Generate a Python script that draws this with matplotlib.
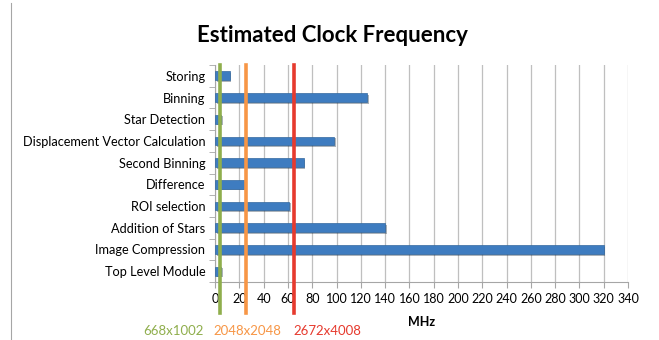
import matplotlib
matplotlib.use('Agg')
import matplotlib.pyplot as plt
import matplotlib.patheffects as pe
import numpy as np

plt.rcParams['font.family'] = ['Lato', 'DejaVu Sans']

# 数据
modules = ['Top Level Module', 'Image Compression', 'Addition of Stars', 'ROI selection',
           'Difference', 'Second Binning', 'Displacement Vector Calculation',
           'Star Detection', 'Binning', 'Storing']
freq = [5, 320, 140, 61, 24, 73, 98, 5, 125, 12]
sizes = ['668x1002', '2048x2048', '2672x4008']
required = [4.0, 25.3, 65.0]
size_colors = ['#8FAE4C', '#F79646', '#E63A2E']
xticks = list(range(0, 341, 20))

fig = plt.figure(figsize=(6.59, 3.4), dpi=100)
ax = fig.add_axes([0.3263, 0.1706, 0.6267, 0.6382])

y = np.arange(len(modules))
ax.barh(y, freq, height=0.41, color='#3E7CC0', edgecolor='#33689F', linewidth=0.5,
        path_effects=[pe.SimplePatchShadow(offset=(1.2, -1.2), alpha=0.35), pe.Normal()],
        zorder=3)

# 图像尺寸对应的频率线
for x, c in zip(required, size_colors):
    ax.axvline(x, ymin=-0.143, ymax=1, color=c, linewidth=2.6, clip_on=False, zorder=4)

ax.set_xlim(0, 340)
ax.set_ylim(-0.5, len(modules) - 0.5)
ax.set_xticks(xticks)
ax.set_xticklabels([str(t) for t in xticks], fontsize=9)
ax.set_yticks(y)
ax.set_yticklabels(modules, fontsize=9.2)
ax.set_yticks(np.arange(-0.5, len(modules), 1), minor=True)
ax.tick_params(axis='y', which='major', length=0, pad=7)
ax.tick_params(axis='y', which='minor', length=4, color='#A6A6A6')
ax.tick_params(axis='x', length=4, color='#A6A6A6', pad=4)
ax.xaxis.grid(True, color='#BFBFBF', linewidth=0.9, zorder=0)
ax.set_axisbelow(True)
for s in ['top', 'right']:
    ax.spines[s].set_visible(False)
for s in ['left', 'bottom']:
    ax.spines[s].set_color('#A6A6A6')

ax.set_xlabel('MHz', fontsize=9, fontweight='bold', labelpad=8)
fig.text(0.505, 0.897, 'Estimated Clock Frequency', ha='center', va='center',
         fontsize=16, fontweight='bold')

label_x = [143, 213, 293]
for lx, s, c in zip(label_x, sizes, size_colors):
    fig.text(lx / 659, 1 - 331 / 340, s, color=c, fontsize=9.5, ha='left', va='center')

# 左侧边框
fig.add_artist(plt.Line2D([11 / 659, 11 / 659], [0, 0.99], color='#A6A6A6', linewidth=0.8))

fig.savefig('out.png', dpi=100)
